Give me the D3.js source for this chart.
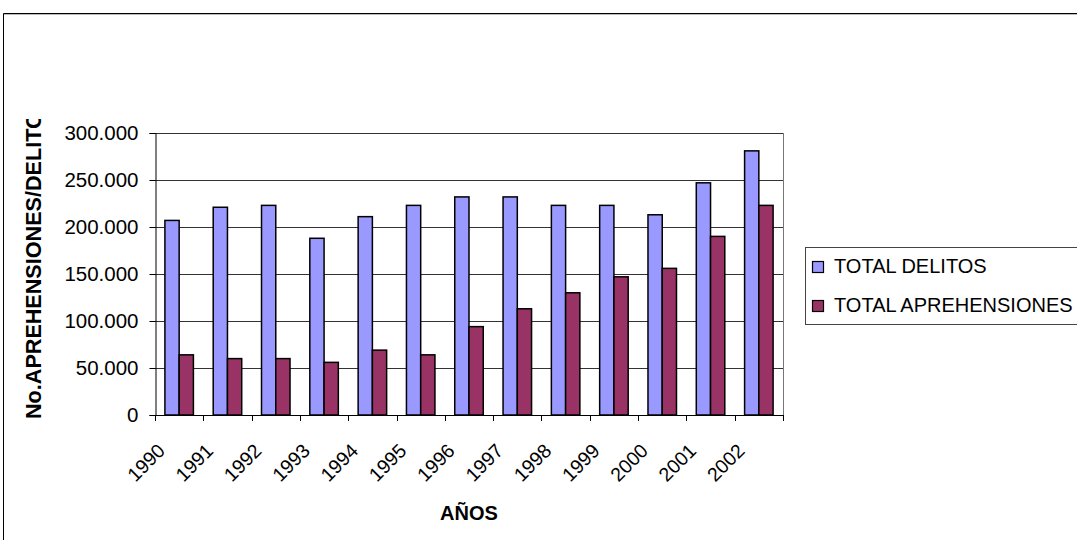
<!DOCTYPE html>
<html>
<head>
<meta charset="utf-8">
<script src="https://cdn.jsdelivr.net/npm/d3@7"></script>
<style>
  html, body { margin: 0; padding: 0; background: #fff; }
  svg { display: block; font-family: "Liberation Sans", Arial, sans-serif; }
</style>
</head>
<body>
<svg id="chart" width="1077" height="540"></svg>
<script>
// Years on the category axis
const years = ["1990", "1991", "1992", "1993", "1994", "1995", "1996",
               "1997", "1998", "1999", "2000", "2001", "2002"];
// Series values
const totalDelitos = [207000, 221000, 223000, 188000, 211000, 223000, 232000,
                      232000, 223000, 223000, 213000, 247000, 281000];
const totalAprehensiones = [64000, 60000, 60000, 56000, 69000, 64000, 94000,
                            113000, 130000, 147000, 156000, 190000, 223000];
const seriesNames = ["TOTAL DELITOS", "TOTAL APREHENSIONES"];
const seriesColors = ["#9999FF", "#993366"];
const yTicks = [0, 50000, 100000, 150000, 200000, 250000, 300000];

const svg = d3.select("#chart");
const W = 1077, H = 540;
const plot = { left: 155, right: 783, top: 133, bottom: 415 };

const esLocale = d3.formatLocale({ decimal: ",", thousands: ".", grouping: [3], currency: ["", ""] });
const fmt = esLocale.format(",d");

// Outer chart frame (open to the right and bottom)
svg.append("path")
  .attr("d", `M3.5,${H} L3.5,13.5 L${W},13.5`)
  .attr("fill", "none").attr("stroke", "#000").attr("stroke-width", 1);
svg.append("line")
  .attr("x1", 4).attr("x2", W).attr("y1", 14.5).attr("y2", 14.5)
  .attr("stroke", "#bbb").attr("stroke-width", 1);

const x0 = d3.scaleBand().domain(years).range([plot.left, plot.right])
  .paddingInner(0.41).paddingOuter(0.205);
const x1 = d3.scaleBand().domain(seriesNames).range([0, x0.bandwidth()]);
const y = d3.scaleLinear().domain([0, 300000]).range([plot.bottom, plot.top]);

// Horizontal gridlines
svg.append("g").selectAll("line").data(yTicks.filter(d => d > 0)).join("line")
  .attr("x1", plot.left).attr("x2", plot.right)
  .attr("y1", d => Math.round(y(d)) + 0.5).attr("y2", d => Math.round(y(d)) + 0.5)
  .attr("stroke", "#333").attr("stroke-width", 1);

// Right border of the plot area
svg.append("line")
  .attr("x1", plot.right + 0.5).attr("x2", plot.right + 0.5)
  .attr("y1", plot.top).attr("y2", plot.bottom)
  .attr("stroke", "#777").attr("stroke-width", 1);

// Bars
const rows = years.map((yr, i) => ({ year: yr, values: [totalDelitos[i], totalAprehensiones[i]] }));
const groups = svg.append("g").selectAll("g").data(rows).join("g")
  .attr("transform", d => `translate(${x0(d.year)},0)`);
groups.selectAll("rect")
  .data(d => d.values.map((v, k) => ({ name: seriesNames[k], value: v, k })))
  .join("rect")
  .attr("x", d => x1(d.name))
  .attr("y", d => y(d.value))
  .attr("width", x1.bandwidth())
  .attr("height", d => y(0) - y(d.value))
  .attr("fill", d => seriesColors[d.k])
  .attr("stroke", "#000").attr("stroke-width", 1.5);

// Y axis
const yAxis = svg.append("g")
  .attr("transform", `translate(${plot.left + 0.5},0)`)
  .call(d3.axisLeft(y).tickValues(yTicks).tickFormat(fmt).tickSizeOuter(0).tickSize(6).tickPadding(11));
yAxis.select(".domain").attr("stroke", "#000");
yAxis.selectAll(".tick line").attr("stroke", "#000");
yAxis.selectAll("text").attr("font-size", 20.5).attr("fill", "#000")
  .attr("font-family", "'Liberation Sans', Arial, sans-serif");

// X axis with ticks on category boundaries
svg.append("line")
  .attr("x1", plot.left).attr("x2", plot.right + 1)
  .attr("y1", plot.bottom + 0.5).attr("y2", plot.bottom + 0.5)
  .attr("stroke", "#000");
const step = x0.step();
const boundaries = d3.range(years.length + 1).map(i => x0(years[0]) - x0.paddingOuter() * step + i * step);
svg.append("g").selectAll("line").data(boundaries).join("line")
  .attr("x1", d => Math.round(d) + 0.5).attr("x2", d => Math.round(d) + 0.5)
  .attr("y1", plot.bottom).attr("y2", plot.bottom + 6)
  .attr("stroke", "#000");

// Rotated year labels
svg.append("g").selectAll("text").data(years).join("text")
  .attr("transform", d => `translate(${x0(d) + x0.bandwidth() / 2 - 13},${plot.bottom + 37}) rotate(-45)`)
  .attr("text-anchor", "end")
  .attr("font-size", 19.5).attr("fill", "#000")
  .text(d => d);

// Axis titles
svg.append("text")
  .attr("x", (plot.left + plot.right) / 2).attr("y", 520)
  .attr("text-anchor", "middle").attr("font-size", 20).attr("font-weight", "bold")
  .text("AÑOS");

svg.append("clipPath").attr("id", "ytitle-clip")
  .append("rect").attr("x", 0).attr("y", 119).attr("width", 80).attr("height", 320);
svg.append("g")
  .attr("clip-path", "url(#ytitle-clip)")
  .append("text")
  .attr("transform", "translate(41,419) rotate(-90)")
  .attr("text-anchor", "start").attr("font-size", 21.6).attr("font-weight", "bold")
  .text("No.APREHENSIONES/DELITOS");

// Legend
const legend = svg.append("g");
legend.append("rect")
  .attr("x", 805.5).attr("y", 247.5).attr("width", 300).attr("height", 77)
  .attr("fill", "#fff").attr("stroke", "#444").attr("stroke-width", 1);
const items = legend.selectAll("g.item").data(seriesNames).join("g").attr("class", "item")
  .attr("transform", (d, i) => `translate(0,${i * 39})`);
items.append("rect")
  .attr("x", 812.5).attr("y", 261.5).attr("width", 11).attr("height", 11)
  .attr("fill", (d, i) => seriesColors[i]).attr("stroke", "#000").attr("stroke-width", 1.2);
items.append("text")
  .attr("x", 834).attr("y", 273)
  .attr("font-size", 20).attr("fill", "#000")
  .text(d => d);
</script>
</body>
</html>
